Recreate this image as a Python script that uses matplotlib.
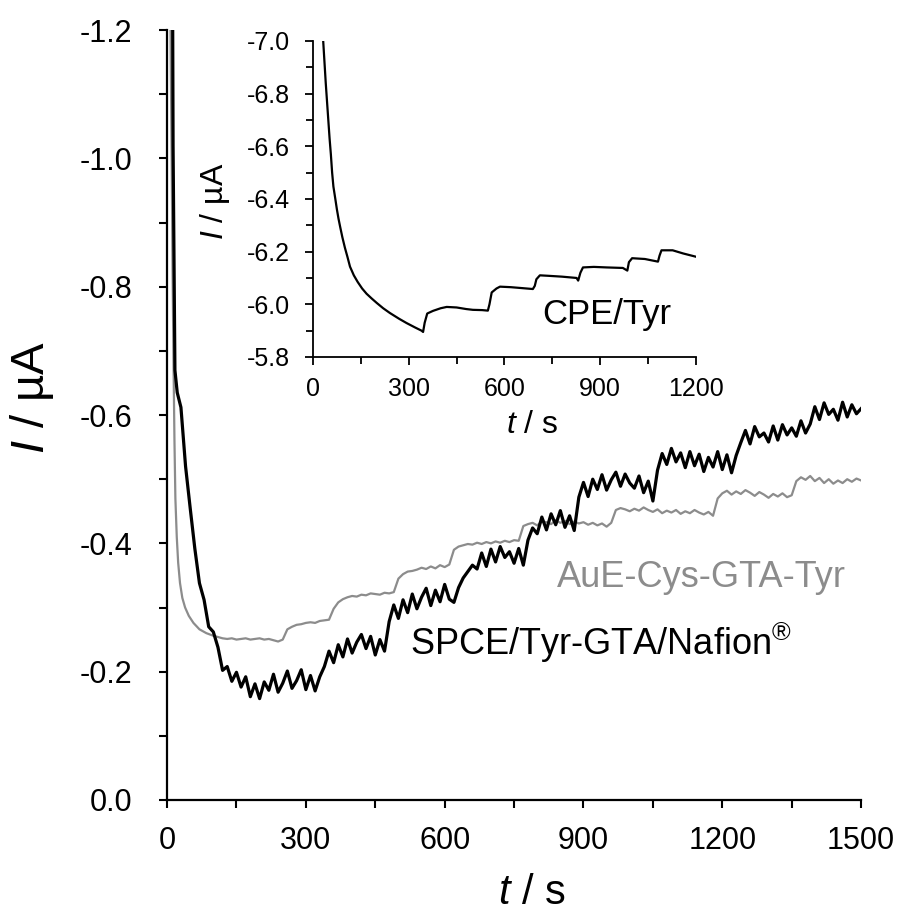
import numpy as np
import matplotlib.pyplot as plt
from matplotlib.ticker import MultipleLocator

plt.rcParams['font.family'] = ['Liberation Sans', 'DejaVu Sans']
plt.rcParams['mathtext.fontset'] = 'custom'
plt.rcParams['mathtext.rm'] = 'Liberation Sans'
plt.rcParams['mathtext.it'] = 'Liberation Sans:italic'
plt.rcParams['axes.unicode_minus'] = False

# SPCE/Tyr-GTA/Nafion (black, noisy)
t_spce_start = [12, 13, 17, 22]
i_spce_start = [-1.25, -1.02, -0.67, -0.635]
t_spce = np.arange(30, 1501, 10)
i_spce = [
    -0.612, -0.520, -0.455, -0.392, -0.338, -0.312, -0.270, -0.262, -0.238, -0.202,
    -0.208, -0.185, -0.199, -0.176, -0.192, -0.161, -0.181, -0.158, -0.184, -0.171,
    -0.196, -0.168, -0.182, -0.201, -0.174, -0.186, -0.203, -0.172, -0.194, -0.170,
    -0.192, -0.208, -0.232, -0.214, -0.242, -0.223, -0.251, -0.229, -0.246, -0.258,
    -0.236, -0.255, -0.226, -0.250, -0.232, -0.278, -0.304, -0.283, -0.312, -0.292,
    -0.321, -0.298, -0.316, -0.330, -0.303, -0.327, -0.309, -0.336, -0.313, -0.308,
    -0.331, -0.346, -0.356, -0.366, -0.360, -0.385, -0.364, -0.391, -0.371, -0.395,
    -0.378, -0.387, -0.369, -0.392, -0.366, -0.405, -0.424, -0.415, -0.441, -0.421,
    -0.446, -0.429, -0.451, -0.425, -0.443, -0.420, -0.472, -0.495, -0.473, -0.500,
    -0.484, -0.507, -0.483, -0.499, -0.511, -0.489, -0.508, -0.494, -0.486, -0.505,
    -0.479, -0.497, -0.466, -0.514, -0.540, -0.523, -0.548, -0.527, -0.541, -0.518,
    -0.543, -0.521, -0.539, -0.512, -0.534, -0.519, -0.543, -0.515, -0.538, -0.510,
    -0.537, -0.557, -0.576, -0.555, -0.582, -0.566, -0.572, -0.558, -0.583, -0.561,
    -0.585, -0.569, -0.580, -0.567, -0.591, -0.572, -0.586, -0.613, -0.593, -0.619,
    -0.601, -0.609, -0.592, -0.620, -0.597, -0.616, -0.602, -0.610,
]

# AuE-Cys-GTA-Tyr (grey)
t_aue_start = [6, 8, 10, 12, 14, 16, 18, 21, 24, 28, 33, 39, 47, 57, 70, 85, 100]
i_aue_start = [-1.35, -1.15, -1.0, -0.82, -0.68, -0.56, -0.47, -0.41, -0.37, -0.338,
               -0.315, -0.30, -0.287, -0.276, -0.266, -0.26, -0.256]
t_aue = np.arange(110, 1501, 10)
i_aue = [
    -0.254, -0.252, -0.251, -0.252, -0.250, -0.251, -0.252, -0.250, -0.251, -0.252,
    -0.250, -0.251, -0.249, -0.247, -0.250, -0.266, -0.270, -0.273, -0.274, -0.276,
    -0.277, -0.276, -0.279, -0.280, -0.281, -0.298, -0.308, -0.313, -0.316, -0.318,
    -0.317, -0.320, -0.319, -0.322, -0.321, -0.320, -0.323, -0.322, -0.324, -0.345,
    -0.352, -0.356, -0.357, -0.359, -0.362, -0.360, -0.364, -0.361, -0.366, -0.363,
    -0.367, -0.390, -0.395, -0.397, -0.399, -0.398, -0.401, -0.399, -0.402, -0.400,
    -0.403, -0.401, -0.404, -0.402, -0.405, -0.404, -0.427, -0.430, -0.432, -0.428,
    -0.434, -0.433, -0.430, -0.436, -0.432, -0.435, -0.430, -0.434, -0.431, -0.433,
    -0.429, -0.432, -0.428, -0.431, -0.426, -0.432, -0.452, -0.455, -0.453, -0.450,
    -0.454, -0.451, -0.456, -0.452, -0.449, -0.453, -0.447, -0.451, -0.448, -0.452,
    -0.446, -0.450, -0.447, -0.452, -0.448, -0.445, -0.449, -0.443, -0.470, -0.478,
    -0.482, -0.476, -0.481, -0.477, -0.483, -0.479, -0.474, -0.480, -0.476, -0.471,
    -0.477, -0.473, -0.478, -0.472, -0.475, -0.497, -0.503, -0.499, -0.505, -0.497,
    -0.502, -0.494, -0.500, -0.493, -0.498, -0.494, -0.500, -0.496, -0.501, -0.498,
]

# inset: CPE/Tyr
t_cpe = [32, 36, 40, 44, 48, 52, 56, 60, 64, 70, 75, 80, 85, 92, 100, 108, 116, 128,
         140, 154, 168, 184, 200, 220, 241, 270, 293, 320, 340, 345, 350, 358, 376, 400,
         419, 450, 480, 501, 530, 548, 553, 560, 575, 586, 620, 650, 689, 695, 700, 711,
         740, 780, 826, 831, 838, 846, 880, 920, 971, 985, 990, 1000, 1040, 1081, 1086,
         1092, 1127, 1160, 1202]
i_cpe = [-7.00, -6.92, -6.84, -6.77, -6.70, -6.63, -6.57, -6.50, -6.447, -6.40, -6.36,
         -6.325, -6.295, -6.255, -6.215, -6.18, -6.143, -6.11, -6.085, -6.06, -6.04,
         -6.022, -6.005, -5.985, -5.967, -5.945, -5.929, -5.912, -5.900, -5.895, -5.93,
         -5.965, -5.975, -5.985, -5.99, -5.988, -5.982, -5.979, -5.978, -5.976, -6.00,
         -6.045, -6.06, -6.067, -6.065, -6.062, -6.058, -6.07, -6.095, -6.11, -6.108,
         -6.105, -6.10, -6.09, -6.12, -6.14, -6.142, -6.14, -6.138, -6.128, -6.16,
         -6.175, -6.172, -6.162, -6.185, -6.205, -6.205, -6.193, -6.18]

fig = plt.figure(figsize=(9.03, 9.13), dpi=100)
ax = fig.add_axes([0.185, 0.1238, 0.7686, 0.8432])

ax.plot(np.r_[t_aue_start, t_aue], np.r_[i_aue_start, i_aue], color='#8c8c8c', lw=1.6)
ax.plot(np.r_[t_spce_start, t_spce], np.r_[i_spce_start, i_spce], color='black', lw=2.3)

ax.set_xlim(0, 1500)
ax.set_ylim(0, -1.2)
ax.xaxis.set_major_locator(MultipleLocator(300))
ax.xaxis.set_minor_locator(MultipleLocator(150))
ax.yaxis.set_major_locator(MultipleLocator(0.2))
ax.yaxis.set_minor_locator(MultipleLocator(0.1))
ax.yaxis.set_major_formatter(plt.FuncFormatter(lambda v, p: f'{v:.1f}'))
for s in ['top', 'right']:
    ax.spines[s].set_visible(False)
for s in ['left', 'bottom']:
    ax.spines[s].set_linewidth(1.6)
ax.tick_params(which='both', direction='out', width=1.5, labelsize=22)
ax.tick_params(which='major', length=6)
ax.tick_params(which='minor', length=5.5)
ax.tick_params(axis='x', pad=13)
ax.tick_params(axis='y', pad=19)

ax.text(525, -0.245, 'SPCE/Tyr-GTA/Nafion$^{\\mathrm{®}}$', fontsize=26, va='center', ha='left')
ax.text(843, -0.346, 'AuE-Cys-GTA-Tyr', fontsize=26, color='#8c8c8c', va='center', ha='left')

fig.text(0.035, 0.565, '$\\mathit{I}$ / µA', fontsize=34, rotation=90, ha='center', va='center')
fig.text(0.589, 0.022, '$\\mathit{t}$ / s', fontsize=30, ha='center', va='center')

# inset
ax2 = fig.add_axes([0.3466, 0.609, 0.4241, 0.3462])
ax2.patch.set_alpha(0)
ax2.plot(t_cpe, i_cpe, color='black', lw=1.6)
ax2.set_xlim(0, 1200)
ax2.set_ylim(-5.8, -7.0)
ax2.xaxis.set_major_locator(MultipleLocator(300))
ax2.xaxis.set_minor_locator(MultipleLocator(150))
ax2.yaxis.set_major_locator(MultipleLocator(0.2))
ax2.yaxis.set_minor_locator(MultipleLocator(0.1))
ax2.yaxis.set_major_formatter(plt.FuncFormatter(lambda v, p: f'{v:.1f}'))
for s in ['top', 'right']:
    ax2.spines[s].set_visible(False)
for s in ['left', 'bottom']:
    ax2.spines[s].set_linewidth(1.3)
ax2.tick_params(which='both', direction='out', width=1.3, labelsize=18)
ax2.tick_params(which='major', length=5.5)
ax2.tick_params(which='minor', length=5)
ax2.tick_params(axis='x', pad=9)
ax2.tick_params(axis='y', pad=11)
ax2.text(717, -5.96, 'CPE/Tyr', fontsize=25, ha='left', va='center')

fig.text(0.238, 0.779, '$\\mathit{I}$ / µA', fontsize=23, rotation=90, ha='center', va='center')
fig.text(0.589, 0.5345, '$\\mathit{t}$ / s', fontsize=23, ha='center', va='center')

fig.savefig('out.png', dpi=100)
